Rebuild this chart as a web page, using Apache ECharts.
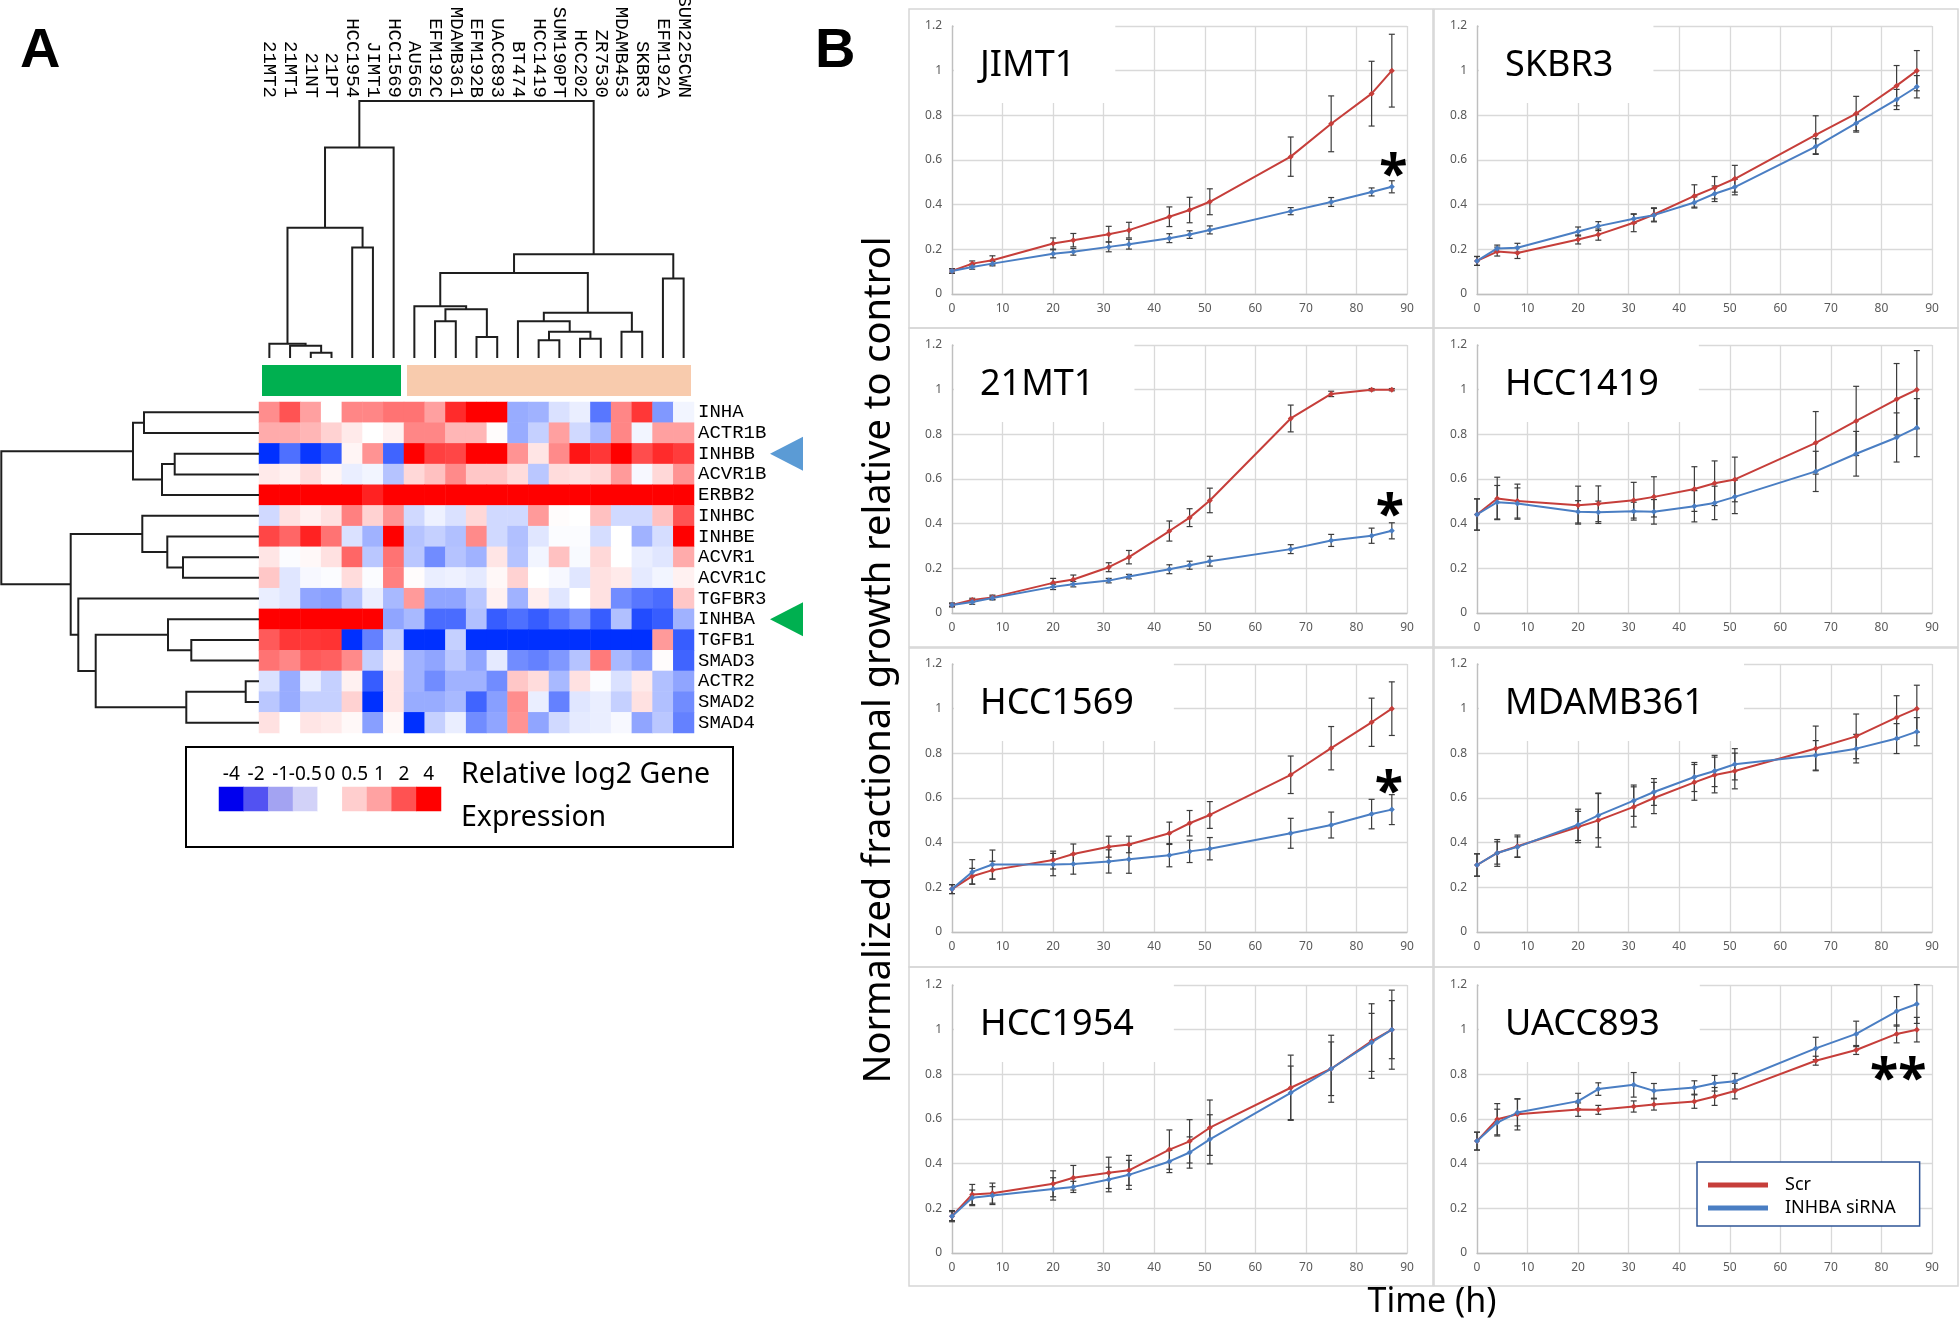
<!DOCTYPE html>
<html><head><meta charset="utf-8">
<script src="https://cdn.jsdelivr.net/npm/echarts@6/dist/echarts.min.js"></script>
<style>html,body{margin:0;padding:0;background:#fff}#chart{width:1960px;height:1322px}</style>
</head><body><div id="chart"></div>
<script>
// ---------------- Panel A data ----------------
const cellLines = ['21MT2','21MT1','21NT','21PT','HCC1954','JIMT1','HCC1569','AU565','EFM192C','MDAMB361','EFM192B','UACC893','BT474','HCC1419','SUM190PT','HCC202','ZR7530','MDAMB453','SKBR3','EFM192A','SUM225CWN'];
const genes = ['INHA','ACTR1B','INHBB','ACVR1B','ERBB2','INHBC','INHBE','ACVR1','ACVR1C','TGFBR3','INHBA','TGFB1','SMAD3','ACTR2','SMAD2','SMAD4'];
// relative log2 expression, one row per gene, one value per cell line
const exprMatrix = [
 [1.3,2.2,1.0,0,1.4,1.4,1.7,1.7,1.0,3.0,4,4,-1.1,-1.0,-0.4,-0.25,-2.0,1.4,2.7,-1.4,-0.15],
 [0.9,0.9,0.8,0.55,0.3,0,0.2,1.4,1.4,0.8,0.8,0.05,-1.1,-0.6,1.0,-0.5,-0.9,1.4,-0.15,1.0,1.0],
 [-4,-2.2,-3.8,-2.7,0.15,1.2,-2.5,4,2.5,2.4,4,4,1.2,0.35,1.35,3.5,2.7,4,2.3,3.0,2.6],
 [0.3,0.2,0.45,0.15,-0.25,-0.15,-0.75,0.5,0.7,1.35,0.65,0.65,0.45,-0.7,0.45,0.4,0.5,1.1,-0.1,0.5,1.2],
 [4,4,4,4,4,3.2,4,4,4,4,4,4,4,4,4,4,4,4,4,4,4],
 [-0.5,0.4,0.2,0.4,1.5,0.55,1.2,-0.5,-0.2,-0.4,0.5,-0.5,-0.5,1.1,0.05,0,0.7,-0.5,-0.5,0.7,2.2],
 [2.4,1.9,3.2,1.7,-0.4,-1.0,4,-0.75,-0.6,-0.8,1.35,-0.5,-0.8,-0.35,-0.05,-0.05,-0.45,0,-1.0,-0.45,4],
 [0.35,-0.05,0.1,0.4,1.9,-0.7,1.7,-0.7,-1.6,-0.75,-1.0,0.35,-0.75,-0.15,0.7,-0.08,0.5,0,-0.25,-0.35,0.9],
 [0.65,-0.35,-0.1,-0.05,0.45,-0.05,1.5,0.05,-0.25,-0.2,-0.3,0.1,0.55,0,-0.1,-0.35,0.4,0.3,-0.3,-0.15,0.2],
 [-0.25,-0.35,-1.2,-1.3,-0.75,-0.25,-0.9,1.1,-1.2,-1.2,-0.7,0.2,-1.0,0.25,-0.35,0,0.4,-1.6,-2.0,-2.3,0.65],
 [4,4,4,4,4,4,-1.2,-0.9,-2.3,-2.3,-0.8,-2.7,-2.2,-2.7,-2.0,-1.5,-2.7,-0.8,-3.2,-2.7,-1.0],
 [2.1,2.7,2.7,2.8,-4,-1.8,-0.6,-4,-4,-0.6,-4,-4,-4,-4,-4,-4,-4,-4,-4,1.1,-2.7],
 [1.7,1.4,2.1,2.0,1.35,-0.6,0.2,-1.0,-1.2,-0.7,-1.2,-0.3,-1.6,-1.8,-1.4,-0.75,1.6,-0.9,-1.3,0.05,-2.5],
 [-0.4,-1.1,-0.25,-0.6,0.2,-2.7,0.35,-1.0,-1.6,-1.0,-1.0,-1.6,0.65,0.45,-0.9,0.4,-0.05,-0.4,0.3,-0.8,-1.2],
 [-0.7,-1.1,-0.6,-0.6,0.55,-4,0.35,-1.1,-1.1,-0.9,-2.5,-1.3,1.3,-0.25,-1.8,-0.35,-0.25,-0.6,0.4,-0.8,-1.6],
 [0.4,0,0.35,0.3,0.1,-1.3,0.1,-4,-0.6,-0.25,-1.6,-1.2,1.2,-1.2,-0.5,-0.3,-0.25,-0.1,-1.2,-0.7,-1.8]
];
// hierarchical clustering merges: [childA, childB, height]; new node ids follow the leaves
const colMerges = [[2,3,5.3],[1,21,12.3],[0,22,14.3],[4,5,110.3],[23,24,130],[25,6,210.3],[8,9,36.7],[10,11,21],[27,28,48.7],[7,29,51.7],[13,14,17.7],[15,16,19.3],[31,32,26.3],[12,33,36.7],[17,18,26.3],[34,35,45.3],[30,36,85],[19,20,79.3],[37,38,103.7],[26,39,256.7]];
const rowMerges = [[0,1,115],[2,3,84.3],[17,4,97],[16,18,126],[7,8,76],[6,20,91.7],[5,21,116.7],[11,12,67.7],[10,23,91],[13,14,13.3],[25,15,72.7],[24,26,163.3],[9,27,180.7],[22,28,188.3],[19,29,257.7]];
const clusterGroups = [[0,6],[7,20]];
const legendLevels = [-4,-2,-1,-0.5,0,0.5,1,2,4];
const legendLabels = ['-4','-2','-1','-0.5','0','0.5','1','2','4'];
const markedGenes = ['INHBB','INHBA'];

// ---------------- Panel B data ----------------
const timeH = [0,4,8,20,24,31,35,43,47,51,67,75,83,87];
const jimt1Scr    = [0.103,0.136,0.151,0.226,0.241,0.268,0.286,0.346,0.376,0.413,0.615,0.762,0.897,1.0];
const jimt1ScrErr = [0.01,0.012,0.02,0.025,0.03,0.035,0.035,0.044,0.057,0.058,0.088,0.125,0.145,0.163];
const jimt1Si     = [0.103,0.121,0.136,0.18,0.189,0.211,0.223,0.25,0.266,0.287,0.371,0.412,0.457,0.48];
const jimt1SiErr  = [0.01,0.01,0.01,0.018,0.015,0.022,0.022,0.02,0.017,0.018,0.016,0.02,0.018,0.027];
const skbr3Scr    = [0.148,0.19,0.184,0.244,0.266,0.319,0.356,0.439,0.476,0.516,0.713,0.808,0.933,1.0];
const skbr3ScrErr = [0.02,0.02,0.025,0.02,0.025,0.04,0.03,0.05,0.05,0.06,0.085,0.077,0.09,0.09];
const skbr3Si     = [0.148,0.204,0.207,0.28,0.304,0.337,0.353,0.41,0.449,0.479,0.66,0.765,0.871,0.928];
const skbr3SiErr  = [0.02,0.015,0.02,0.02,0.02,0.02,0.03,0.025,0.035,0.035,0.035,0.04,0.045,0.05];
const mt21Scr     = [0.036,0.058,0.07,0.135,0.15,0.205,0.25,0.367,0.427,0.504,0.871,0.981,1.0,1.0];
const mt21ScrErr  = [0.008,0.008,0.01,0.02,0.02,0.02,0.03,0.045,0.04,0.055,0.06,0.012,0.005,0.005];
const mt21Si      = [0.036,0.049,0.067,0.117,0.129,0.145,0.163,0.196,0.214,0.232,0.286,0.325,0.346,0.368];
const mt21SiErr   = [0.008,0.01,0.008,0.012,0.012,0.01,0.01,0.02,0.018,0.022,0.02,0.027,0.034,0.036];
const hcc1419Scr    = [0.441,0.513,0.501,0.483,0.489,0.505,0.52,0.555,0.581,0.598,0.762,0.86,0.957,1.0];
const hcc1419ScrErr = [0.07,0.095,0.076,0.085,0.08,0.08,0.09,0.1,0.1,0.1,0.14,0.155,0.16,0.175];
const hcc1419Si     = [0.441,0.496,0.49,0.453,0.451,0.456,0.453,0.478,0.493,0.52,0.634,0.713,0.786,0.83];
const hcc1419SiErr  = [0.07,0.075,0.07,0.05,0.05,0.04,0.055,0.07,0.075,0.075,0.09,0.1,0.11,0.13];
const hcc1569Scr    = [0.192,0.25,0.277,0.322,0.349,0.382,0.392,0.442,0.487,0.524,0.704,0.823,0.939,1.0];
const hcc1569ScrErr = [0.02,0.035,0.04,0.04,0.045,0.047,0.037,0.05,0.057,0.06,0.084,0.097,0.108,0.12];
const hcc1569Si     = [0.192,0.269,0.302,0.302,0.304,0.316,0.326,0.344,0.361,0.373,0.442,0.479,0.528,0.548];
const hcc1569SiErr  = [0.02,0.055,0.065,0.05,0.045,0.052,0.063,0.052,0.05,0.05,0.067,0.058,0.066,0.067];
const mdamb361Scr    = [0.3,0.354,0.384,0.47,0.5,0.56,0.6,0.67,0.703,0.721,0.822,0.876,0.961,1.0];
const mdamb361ScrErr = [0.05,0.06,0.05,0.07,0.12,0.09,0.07,0.08,0.08,0.08,0.1,0.1,0.097,0.105];
const mdamb361Si     = [0.3,0.354,0.381,0.48,0.522,0.588,0.627,0.694,0.721,0.751,0.791,0.821,0.866,0.897];
const mdamb361SiErr  = [0.05,0.05,0.045,0.07,0.1,0.07,0.06,0.065,0.07,0.07,0.066,0.064,0.067,0.063];
const hcc1954Scr    = [0.165,0.262,0.268,0.31,0.337,0.359,0.37,0.463,0.5,0.561,0.74,0.825,0.949,1.0];
const hcc1954ScrErr = [0.025,0.045,0.045,0.058,0.055,0.07,0.067,0.088,0.097,0.124,0.146,0.15,0.167,0.177];
const hcc1954Si     = [0.165,0.247,0.257,0.287,0.296,0.329,0.35,0.41,0.45,0.509,0.717,0.825,0.943,1.0];
const hcc1954SiErr  = [0.02,0.035,0.04,0.05,0.025,0.055,0.065,0.05,0.07,0.11,0.12,0.12,0.13,0.13];
const uacc893Scr    = [0.501,0.599,0.621,0.642,0.641,0.656,0.665,0.678,0.701,0.725,0.861,0.909,0.981,1.0];
const uacc893ScrErr = [0.04,0.07,0.07,0.03,0.02,0.025,0.025,0.03,0.04,0.035,0.02,0.02,0.04,0.055];
const uacc893Si     = [0.501,0.584,0.629,0.68,0.734,0.753,0.726,0.741,0.76,0.769,0.916,0.981,1.082,1.115];
const uacc893SiErr  = [0.04,0.06,0.06,0.035,0.028,0.055,0.033,0.03,0.035,0.035,0.05,0.057,0.066,0.087];
const seriesNames = ['Scr','INHBA siRNA'];
// significance marks: [time, value] anchor and text
const sigMarks = {'JIMT1':{text:'*',at:[87.3,0.585]},'21MT1':{text:'*',at:[86.6,0.49]},'HCC1569':{text:'*',at:[86.4,0.68]},'UACC893':{text:'**',at:[83.3,0.83]}};

const panels = [
 {name:'JIMT1', scr:jimt1Scr, scrErr:jimt1ScrErr, si:jimt1Si, siErr:jimt1SiErr},
 {name:'SKBR3', scr:skbr3Scr, scrErr:skbr3ScrErr, si:skbr3Si, siErr:skbr3SiErr},
 {name:'21MT1', scr:mt21Scr, scrErr:mt21ScrErr, si:mt21Si, siErr:mt21SiErr},
 {name:'HCC1419', scr:hcc1419Scr, scrErr:hcc1419ScrErr, si:hcc1419Si, siErr:hcc1419SiErr},
 {name:'HCC1569', scr:hcc1569Scr, scrErr:hcc1569ScrErr, si:hcc1569Si, siErr:hcc1569SiErr},
 {name:'MDAMB361', scr:mdamb361Scr, scrErr:mdamb361ScrErr, si:mdamb361Si, siErr:mdamb361SiErr},
 {name:'HCC1954', scr:hcc1954Scr, scrErr:hcc1954ScrErr, si:hcc1954Si, siErr:hcc1954SiErr},
 {name:'UACC893', scr:uacc893Scr, scrErr:uacc893ScrErr, si:uacc893Si, siErr:uacc893SiErr}
];

// ---------------- styles / helpers ----------------
const redRamp=[[0,255],[0.3,234],[0.5,216],[0.7,192],[1,160],[1.5,128],[2,96],[2.5,64],[4,0]];
const blueRamp=[[0,255],[0.3,230],[0.5,208],[0.8,176],[1.2,144],[1.6,112],[2,88],[2.5,64],[4,0]];
function interp(r,a){for(let i=1;i<r.length;i++){if(a<=r[i][0]){const a0=r[i-1][0],t0=r[i-1][1],a1=r[i][0],t1=r[i][1];return t0+(t1-t0)*(a-a0)/(a1-a0);}}return r[r.length-1][1];}
function heatColor(v){const a=Math.abs(v);if(v>=0){const t=Math.round(interp(redRamp,a));return 'rgb(255,'+t+','+t+')';}const t=interp(blueRamp,a);return 'rgb('+Math.round(t)+','+Math.round(48+t*207/255)+',255)';}
const heatStops=[];for(let i=0;i<=32;i++)heatStops.push(heatColor(-4+i*0.25));
const legendSwatchColors=['#0000EE','#5252F2','#A3A3F2','#D2D2F8','#FFFFFF','#FFCECE','#FFA2A2','#FF5252','#FF0000'];
const clusterColors=['#00B050','#F8CBAD'];
const arrowColors={INHBB:'#5B9BD5',INHBA:'#00B050'};
const RED='#C63E3A', BLUE='#4A7EC3', ERR='#3C3C3C';
const MONO='"Liberation Mono","DejaVu Sans Mono",monospace';
const SANS='"Noto Sans","Open Sans",sans-serif';

function dendroSegments(nLeaves, merges, horizontal){
  const pos=[],ht=[];for(let i=0;i<nLeaves;i++){pos[i]=i;ht[i]=0;}
  const segs=[];
  merges.forEach((m,k)=>{const a=m[0],b=m[1],h=m[2],id=nLeaves+k;
    const pts=[[pos[a],ht[a]],[pos[a],h],[pos[b],h],[pos[b],ht[b]]];
    const flat=[];pts.forEach(p=>{if(horizontal){flat.push(p[1],p[0]);}else{flat.push(p[0],p[1]);}});
    segs.push(flat);pos[id]=(pos[a]+pos[b])/2;ht[id]=h;});
  return segs;
}
function polyRender(params,api){
  const pts=[];for(let i=0;i<4;i++)pts.push(api.coord([api.value(2*i),api.value(2*i+1)]));
  return {type:'polyline',shape:{points:pts},style:{stroke:'#1E1E1E',lineWidth:2,fill:null}};
}
function errRender(params,api){
  const x=api.value(0),y=api.value(1),e=api.value(2);
  const t=api.coord([x,y+e]),b=api.coord([x,y-e]);const c=3;const st={stroke:ERR,lineWidth:1.2};
  return {type:'group',children:[
    {type:'line',shape:{x1:t[0],y1:t[1],x2:b[0],y2:b[1]},style:st},
    {type:'line',shape:{x1:t[0]-c,y1:t[1],x2:t[0]+c,y2:t[1]},style:st},
    {type:'line',shape:{x1:b[0]-c,y1:b[1],x2:b[0]+c,y2:b[1]},style:st}]};
}

const grids=[],xAxes=[],yAxes=[],series=[],titles=[],graphics=[];
const OB={outerBoundsMode:'none',containLabel:false};
// grid 0 heatmap
grids.push(Object.assign({left:259,top:402,width:435,height:331},OB));
xAxes.push({type:'category',gridIndex:0,data:cellLines,show:false});
yAxes.push({type:'category',gridIndex:0,data:genes,inverse:true,position:'right',
  axisLine:{show:false},axisTick:{show:false},
  axisLabel:{margin:4,fontFamily:MONO,fontSize:19,color:'#000',interval:0}});
// grid 1 column dendrogram
grids.push(Object.assign({left:259,top:101,width:435,height:257},OB));
xAxes.push({type:'value',gridIndex:1,min:-0.5,max:20.5,show:false});
xAxes.push({type:'category',gridIndex:1,data:cellLines,position:'top',axisLine:{show:false},axisTick:{show:false},splitLine:{show:false},
  axisLabel:{rotate:90,margin:3,interval:0,fontFamily:MONO,fontSize:19,color:'#000'}});
yAxes.push({type:'value',gridIndex:1,min:0,max:256.7,show:false});
// grid 2 row dendrogram
grids.push(Object.assign({left:1.3,top:402,width:257.7,height:331},OB));
xAxes.push({type:'value',gridIndex:2,min:0,max:257.7,inverse:true,show:false});
yAxes.push({type:'value',gridIndex:2,min:-0.5,max:15.5,inverse:true,show:false});
// grid 3 cluster bars
grids.push(Object.assign({left:259,top:364,width:435,height:33},OB));
xAxes.push({type:'value',gridIndex:3,min:-0.5,max:20.5,show:false});
yAxes.push({type:'value',gridIndex:3,min:0,max:1,show:false});
// grid 4 colour legend
grids.push(Object.assign({left:219,top:787,width:222,height:24},OB));
xAxes.push({type:'category',gridIndex:4,data:legendLabels,position:'top',axisLine:{show:false},axisTick:{show:false},
  axisLabel:{margin:3,interval:0,fontFamily:SANS,fontSize:19,color:'#000'}});
yAxes.push({type:'category',gridIndex:4,data:[''],show:false});

const heatData=[];exprMatrix.forEach((row,r)=>row.forEach((v,c)=>heatData.push([c,r,v])));
series.push({type:'heatmap',xAxisIndex:0,yAxisIndex:0,data:heatData,itemStyle:{borderWidth:0},emphasis:{disabled:true}});
series.push({type:'custom',coordinateSystem:'cartesian2d',xAxisIndex:1,yAxisIndex:1,renderItem:polyRender,
  data:dendroSegments(21,colMerges,false),encode:{x:[0,2,4,6],y:[1,3,5,7]},silent:true});
series.push({type:'custom',coordinateSystem:'cartesian2d',xAxisIndex:3,yAxisIndex:2,renderItem:polyRender,
  data:dendroSegments(16,rowMerges,true),encode:{x:[0,2,4,6],y:[1,3,5,7]},silent:true});
series.push({type:'custom',coordinateSystem:'cartesian2d',xAxisIndex:4,yAxisIndex:3,silent:true,
  data:clusterGroups.map((g,i)=>[g[0],g[1],i]),encode:{x:[0,1],y:[]},
  renderItem:(p,api)=>{const s=api.value(0),e=api.value(1);const a=api.coord([s-0.5,1]),b=api.coord([e+0.5,0]);
    return {type:'rect',shape:{x:a[0]+3,y:a[1]+1,width:b[0]-a[0]-6,height:b[1]-a[1]-2},style:{fill:clusterColors[api.value(2)]}};}});
series.push({type:'heatmap',xAxisIndex:5,yAxisIndex:4,data:legendLevels.map((v,i)=>[i,0,v]),itemStyle:{borderWidth:0},emphasis:{disabled:true}});

// ---------------- Panel B ----------------
const colLeft=[952,1477], rowTop=[26,345,664,985];
panels.forEach((p,i)=>{
  const col=i%2,row=Math.floor(i/2);const gl=colLeft[col],gt=rowTop[row];
  grids.push(Object.assign({left:gl,top:gt,width:455,height:268},OB));
  const gi=grids.length-1;
  const axisCommon={axisTick:{show:false},axisLine:{show:true,lineStyle:{color:'#BFBFBF',width:1.3}},
    splitLine:{show:true,lineStyle:{color:'#D9D9D9',width:1.3}}};
  xAxes.push(Object.assign({type:'value',gridIndex:gi,min:0,max:90,interval:10,
    axisLabel:{fontSize:12,color:'#595959',margin:9,fontFamily:SANS}},axisCommon));
  yAxes.push(Object.assign({type:'value',gridIndex:gi,min:0,max:1.2,interval:0.2,
    axisLabel:{fontSize:12,color:'#595959',margin:10,fontFamily:SANS,formatter:v=>String(Math.round(v*10)/10)}},axisCommon));
  const xi=xAxes.length-1,yi=yAxes.length-1;
  const sig=sigMarks[p.name];
  [[p.scr,p.scrErr,RED,seriesNames[0]],[p.si,p.siErr,BLUE,seriesNames[1]]].forEach((s,k)=>{
    series.push({type:'custom',name:'err'+k,coordinateSystem:'cartesian2d',xAxisIndex:xi,yAxisIndex:yi,silent:true,z:3,
      data:timeH.map((t,j)=>[t,s[0][j],s[1][j]]),encode:{x:0,y:1},renderItem:errRender});
    const ls={type:'line',name:s[3],xAxisIndex:xi,yAxisIndex:yi,data:timeH.map((t,j)=>[t,s[0][j]]),
      color:s[2],symbol:'diamond',symbolSize:6,showSymbol:true,lineStyle:{width:2,color:s[2]},itemStyle:{color:s[2]},z:4,silent:true};
    if(k===0&&sig){ls.markPoint={symbol:'circle',symbolSize:0,silent:true,data:[{coord:sig.at,value:sig.text}],
      label:{show:true,position:'inside',formatter:sig.text,fontSize:52,fontWeight:'bold',color:'#000',fontFamily:SANS,offset:[0,14]}};}
    series.push(ls);
  });
  titles.push({text:p.name,left:gl+2,top:gt-2,padding:[22,40,17,26],backgroundColor:'#fff',
    textStyle:{fontSize:36,fontWeight:'normal',color:'#000',fontFamily:SANS,lineHeight:40}});
  graphics.push({type:'rect',shape:{x:[909,1434][col],y:[9,328,648,967][row],width:524,height:319},
    style:{fill:'none',stroke:'#D6D6D6',lineWidth:1.5},z:-1});
});

titles.push({text:'A',left:20,top:24,padding:0,textStyle:{fontSize:56,fontWeight:'bold',color:'#000',fontFamily:'"Liberation Sans",Arial,sans-serif'}});
titles.push({text:'B',left:815,top:24,padding:0,textStyle:{fontSize:56,fontWeight:'bold',color:'#000',fontFamily:'"Liberation Sans",Arial,sans-serif'}});
titles.push({text:'Relative log2 Gene\nExpression',left:461,top:753,padding:0,textStyle:{fontSize:28.5,fontWeight:'normal',lineHeight:43,color:'#000',fontFamily:SANS}});

graphics.push({type:'rect',shape:{x:186,y:747,width:547,height:100},style:{fill:'none',stroke:'#000',lineWidth:2}});
graphics.push({type:'text',x:879,y:660,rotation:Math.PI/2,style:{text:'Normalized fractional growth relative to control',
  font:'38px "Noto Sans"',fill:'#000',textAlign:'center',textVerticalAlign:'middle',align:'center',verticalAlign:'middle'}});
graphics.push({type:'text',x:1432,y:1302,style:{text:'Time (h)',font:'34px "Noto Sans"',fill:'#000',
  textAlign:'center',textVerticalAlign:'middle',align:'center',verticalAlign:'middle'}});

const option={
  animation:false,backgroundColor:'#fff',
  title:titles,grid:grids,xAxis:xAxes,yAxis:yAxes,series:series,
  visualMap:[
    {type:'continuous',show:false,seriesIndex:0,min:-4,max:4,inRange:{color:heatStops}},
    {type:'piecewise',show:false,seriesIndex:4,pieces:legendLevels.map((v,i)=>({value:v,color:legendSwatchColors[i]}))}
  ],
  legend:{data:seriesNames,orient:'vertical',left:1697,top:1162,padding:[14,24,9,11],itemGap:5,itemWidth:60,itemHeight:5,
    icon:'rect',borderColor:'#2F5597',borderWidth:1.5,backgroundColor:'#fff',selectedMode:false,
    textStyle:{fontSize:18,fontFamily:SANS,color:'#000',padding:[0,0,0,12]}},
  graphic:graphics
};
const chart=echarts.init(document.getElementById('chart'),null,{renderer:'canvas'});
chart.setOption(option);
// arrows pointing at marked genes
const arrows=markedGenes.map(g=>{const y=chart.convertToPixel({yAxisIndex:0},g);
  return {type:'polygon',shape:{points:[[770,y],[803,y-17],[803,y+17]]},style:{fill:arrowColors[g]}};});
chart.setOption({graphic:graphics.concat(arrows)});
</script></body></html>
